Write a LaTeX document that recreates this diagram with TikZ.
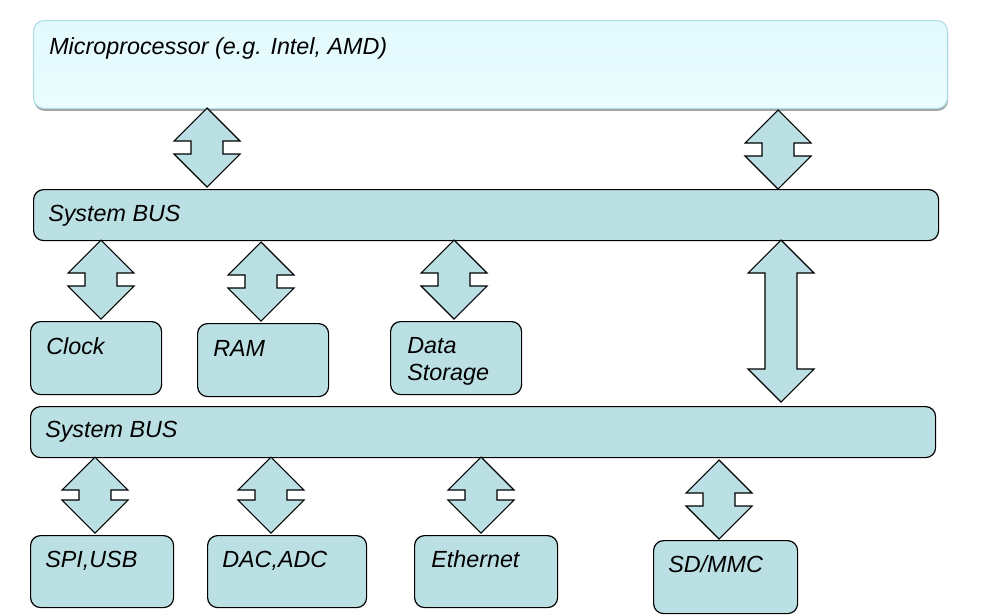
\documentclass[tikz,border=0pt]{standalone}
\usepackage{fontspec}
\setmainfont{Liberation Sans}
\usepackage{tikz}
\usetikzlibrary{shapes,arrows,positioning,calc,shadows}

\definecolor{busfill}{HTML}{BBE0E3}
\definecolor{cputop}{HTML}{E3F9FC}
\definecolor{cpubot}{HTML}{EAFDFF}
\definecolor{cpuline}{HTML}{ABDDE4}

\def\px{0.75pt}

\tikzset{
	box/.style={draw=black, line width=0.9pt, fill=busfill, rounded corners=7.5pt, anchor=north west, inner sep=0pt},
	cpubox/.style={draw=cpuline, line width=0.8pt, top color=cputop, bottom color=cpubot, rounded corners=8pt, anchor=north west, inner sep=0pt,
		drop shadow={shadow xshift=0.4pt, shadow yshift=-1.8pt, fill=black!45, opacity=0.8}},
	lbl/.style={anchor=base west, inner sep=0pt, align=left, font=\fontsize{17.5}{20.25}\selectfont\itshape},
	link/.style={draw=black, line width=0.8pt, fill=busfill, line join=miter},
}

% two-headed block arrow from tip #1 (top) to tip #2 (bottom)
\newcommand{\busarrow}[2]{%
	\draw[link] (#1) -- ++(33,33) -- ++(-17,0) -- ($(#2)+(16,-33)$) -- ++(17,0) -- (#2)
		-- ++(-33,-33) -- ++(17,0) -- ($(#1)+(-16,33)$) -- ++(-17,0) -- cycle;}

\begin{document}
\begin{tikzpicture}[x=\px, y=-\px]
				\useasboundingbox (0,0) rectangle (992,615);
				
				%boxes
				\node[cpubox, minimum width=914*\px, minimum height=88*\px] (cpu) at (33,20) {};
				\node[box, minimum width=905*\px, minimum height=51*\px] (busa) at (33,189) {};
				\node[box, minimum width=131*\px, minimum height=73*\px] (clock) at (30,321) {};
				\node[box, minimum width=131*\px, minimum height=73*\px] (ram) at (197,323) {};
				\node[box, minimum width=131*\px, minimum height=73*\px] (storage) at (390,321) {};
				\node[box, minimum width=905*\px, minimum height=51*\px] (busb) at (30,406) {};
				\node[box, minimum width=143*\px, minimum height=72*\px] (spi) at (30,535) {};
				\node[box, minimum width=159*\px, minimum height=72*\px] (dac) at (207,535) {};
				\node[box, minimum width=143*\px, minimum height=72*\px] (eth) at (414,535) {};
				\node[box, minimum width=144*\px, minimum height=73*\px] (sdmmc) at (653,540) {};
				
				%labels
				\node[lbl] (cpulbl) at ($(cpu.north west)+(16,34)$) {Microprocessor (e.g. Intel, AMD)};
				\node[lbl] (busalbl) at ($(busa.north west)+(15,32)$) {System BUS};
				\node[lbl] (clocklbl) at ($(clock.north west)+(16,33)$) {Clock};
				\node[lbl] (ramlbl) at ($(ram.north west)+(16,33)$) {RAM};
				\node[lbl] (storagelbl) at ($(storage.north west)+(17,59)$) {Data\\Storage};
				\node[lbl] (busblbl) at ($(busb.north west)+(15,31)$) {System BUS};
				\node[lbl] (spilbl) at ($(spi.north west)+(15,32)$) {SPI,USB};
				\node[lbl] (daclbl) at ($(dac.north west)+(15,32)$) {DAC,ADC};
				\node[lbl] (ethlbl) at ($(eth.north west)+(17,32)$) {Ethernet};
				\node[lbl] (sdmmclbl) at ($(sdmmc.north west)+(15,32)$) {SD/MMC};
				
				%arrow tips
				\coordinate (cpuA) at (207,108);	\coordinate (busaA) at (207,187);
				\coordinate (cpuB) at (778,110);	\coordinate (busaB) at (778,189);
				\coordinate (busaC) at (101,240);	\coordinate (clockT) at (101,319);
				\coordinate (busaD) at (261,242);	\coordinate (ramT) at (261,321);
				\coordinate (busaE) at (454,240);	\coordinate (storageT) at (454,319);
				\coordinate (busaF) at (781,240);	\coordinate (busbF) at (781,402);
				\coordinate (busbA) at (95,457);	\coordinate (spiT) at (95,533);
				\coordinate (busbB) at (271,457);	\coordinate (dacT) at (271,533);
				\coordinate (busbC) at (481,457);	\coordinate (ethT) at (481,533);
				\coordinate (busbD) at (719,460);	\coordinate (sdmmcT) at (719,539);
				
				%arrows
				\busarrow{cpuA}{busaA}
				\busarrow{cpuB}{busaB}
				\busarrow{busaC}{clockT}
				\busarrow{busaD}{ramT}
				\busarrow{busaE}{storageT}
				\busarrow{busaF}{busbF}
				\busarrow{busbA}{spiT}
				\busarrow{busbB}{dacT}
				\busarrow{busbC}{ethT}
				\busarrow{busbD}{sdmmcT}
\end{tikzpicture}
\end{document}
